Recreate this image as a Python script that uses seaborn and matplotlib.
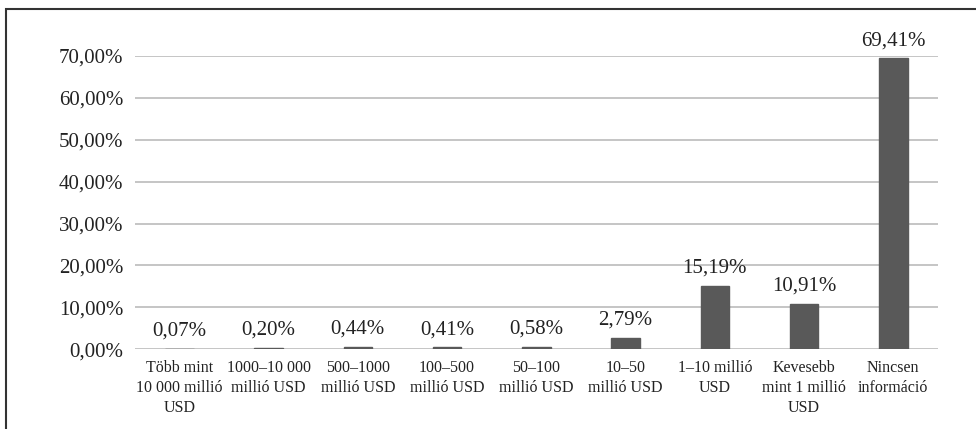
import matplotlib
matplotlib.use("Agg")
import matplotlib.pyplot as plt
from matplotlib.patches import Rectangle
from matplotlib.ticker import FuncFormatter, MultipleLocator
import seaborn as sns
import pandas as pd

# Data
categories = [
    "Több mint\n10 000 millió\nUSD",
    "1000–10 000\nmillió USD",
    "500–1000\nmillió USD",
    "100–500\nmillió USD",
    "50–100\nmillió USD",
    "10–50\nmillió USD",
    "1–10 millió\nUSD",
    "Kevesebb\nmint 1 millió\nUSD",
    "Nincsen\ninformáció",
]
shares = [0.07, 0.20, 0.44, 0.41, 0.58, 2.79, 15.19, 10.91, 69.41]


def hu_pct(v, _pos=None):
    return f"{v:.2f}".replace(".", ",") + "%"


def main():
    sns.set_theme(style="white")
    plt.rcParams["font.family"] = ["Liberation Serif", "DejaVu Serif"]

    df = pd.DataFrame({"category": categories, "share": shares})

    fig = plt.figure(figsize=(9.76, 4.29), dpi=100)
    ax = fig.add_axes([0.138, 0.186, 0.823, 0.6835])

    sns.barplot(data=df, x="category", y="share", color="#595959",
                width=0.32, saturation=1, ax=ax, zorder=3,
                edgecolor="#595959", linewidth=1.0)

    ax.set_ylim(0, 70)
    ax.yaxis.set_major_locator(MultipleLocator(10))
    ax.yaxis.set_major_formatter(FuncFormatter(hu_pct))
    ax.grid(axis="y", color="#c0c0c0", linewidth=1.3, zorder=0)
    ax.set_axisbelow(True)
    for s in ax.spines.values():
        s.set_visible(False)
    ax.set_xlabel("")
    ax.set_ylabel("")
    ax.tick_params(axis="y", length=0, pad=8, labelsize=15, labelcolor="#222222")
    ax.tick_params(axis="x", length=0, pad=8, labelsize=11.5, labelcolor="#222222")
    for lab in ax.get_xticklabels():
        lab.set_linespacing(1.3)

    # value labels above bars
    for p, v in zip(ax.patches, shares):
        ax.annotate(hu_pct(v), (p.get_x() + p.get_width() / 2, p.get_height()),
                    xytext=(0, 6), textcoords="offset points",
                    ha="center", va="bottom", fontsize=15, color="#222222")

    # outer frame
    fig.patches.append(Rectangle((6 / 976, -0.1), 1.1, 1.1 - 9 / 429,
                                 transform=fig.transFigure, fill=False,
                                 edgecolor="#333333", linewidth=1.5))

    fig.savefig("out.png", dpi=100)


if __name__ == "__main__":
    main()
